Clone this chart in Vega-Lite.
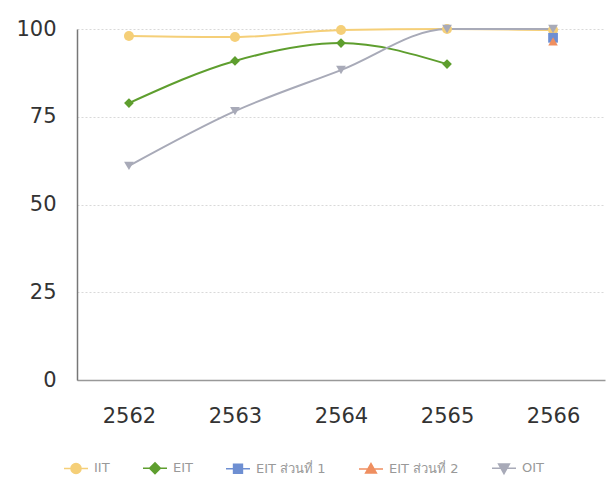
{
  "$schema": "https://vega.github.io/schema/vega-lite/v6.json",
  "width": 528,
  "height": 351,
  "autosize": {"type": "none"},
  "padding": {"left": 77, "top": 29, "right": 4, "bottom": 101},
  "background": "white",
  "config": {"view": {"stroke": null}, "font": "DejaVu Sans"},
  "data": {
    "values": [
      {"series": "IIT", "year": "2562", "value": 98.0},
      {"series": "IIT", "year": "2563", "value": 97.7},
      {"series": "IIT", "year": "2564", "value": 99.7},
      {"series": "IIT", "year": "2565", "value": 100},
      {"series": "IIT", "year": "2566", "value": 99.7},
      {"series": "EIT", "year": "2562", "value": 78.9},
      {"series": "EIT", "year": "2563", "value": 90.9},
      {"series": "EIT", "year": "2564", "value": 96.0},
      {"series": "EIT", "year": "2565", "value": 90.0},
      {"series": "EIT ส่วนที่ 1", "year": "2566", "value": 97.5},
      {"series": "EIT ส่วนที่ 2", "year": "2566", "value": 96.5},
      {"series": "OIT", "year": "2562", "value": 61.0},
      {"series": "OIT", "year": "2563", "value": 76.6},
      {"series": "OIT", "year": "2564", "value": 88.3},
      {"series": "OIT", "year": "2565", "value": 100},
      {"series": "OIT", "year": "2566", "value": 100}
    ]
  },
  "encoding": {
    "x": {
      "field": "year", "type": "ordinal",
      "scale": {"type": "point", "padding": 0.49},
      "axis": {"title": null, "labelAngle": 0, "labelFontSize": 21, "labelColor": "#333", "labelPadding": 25, "ticks": false, "grid": false, "domainColor": "#999", "domainWidth": 1.5}
    },
    "y": {
      "field": "value", "type": "quantitative",
      "scale": {"domain": [0, 100]},
      "axis": {"title": null, "values": [0, 25, 50, 75, 100], "labelFontSize": 21, "labelColor": "#333", "labelPadding": 21, "ticks": false, "domainColor": "#777", "domainWidth": 1.5, "grid": true, "gridColor": "#d9d9d9", "gridDash": [2, 2], "gridWidth": 1}
    },
    "color": {
      "field": "series", "type": "nominal",
      "scale": {
        "domain": ["IIT", "EIT", "EIT ส่วนที่ 1", "EIT ส่วนที่ 2", "OIT"],
        "range": ["#F5CF78", "#5E9E2E", "#6E8FD2", "#EF8F60", "#A8AAB8"]
      },
      "legend": {
        "title": null,
        "orient": "none",
        "legendX": -14,
        "legendY": 426,
        "direction": "horizontal",
        "columnPadding": 30,
        "symbolSize": 576,
        "symbolStrokeWidth": 1.5,
        "labelFontSize": 13,
        "labelColor": "#999",
        "labelOffset": 5,
        "encode": {
          "symbols": {
            "update": {
              "stroke": {"scale": "color", "field": "value"},
              "fill": {"scale": "color", "field": "value"},
              "opacity": {"value": 1}
            }
          }
        }
      }
    }
  },
  "layer": [
    {"mark": {"type": "line", "interpolate": "monotone", "strokeWidth": 2}},
    {"transform": [{"filter": "datum.series === 'IIT'"}], "mark": {"type": "point", "filled": true, "opacity": 1, "size": 100, "shape": "circle"}},
    {"transform": [{"filter": "datum.series === 'EIT'"}], "mark": {"type": "point", "filled": true, "opacity": 1, "size": 95, "shape": "diamond"}},
    {"transform": [{"filter": "datum.series === 'EIT ส่วนที่ 1'"}], "mark": {"type": "point", "filled": true, "opacity": 1, "size": 95, "shape": "square"}},
    {"transform": [{"filter": "datum.series === 'EIT ส่วนที่ 2'"}], "mark": {"type": "point", "filled": true, "opacity": 1, "size": 90, "shape": "triangle-up"}},
    {"transform": [{"filter": "datum.series === 'OIT'"}], "mark": {"type": "point", "filled": true, "opacity": 1, "size": 95, "shape": "triangle-down"}},
    {
      "transform": [{"filter": "datum.value < 0"}],
      "mark": {"type": "point", "filled": true, "opacity": 1},
      "encoding": {
        "shape": {
          "field": "series", "type": "nominal",
          "scale": {
            "domain": ["IIT", "EIT", "EIT ส่วนที่ 1", "EIT ส่วนที่ 2", "OIT"],
            "range": [
              "M-1,0H1M0.42,0A0.42,0.42,0,1,1,-0.42,0A0.42,0.42,0,1,1,0.42,0Z",
              "M-1,0H1M0,-0.45L0.45,0L0,0.45L-0.45,0Z",
              "M-1,0H1M-0.37,-0.37H0.37V0.37H-0.37Z",
              "M-1,0H1M0,-0.45L0.45,0.35L-0.45,0.35Z",
              "M-1,0H1M0,0.45L0.45,-0.35L-0.45,-0.35Z"
            ]
          }
        }
      }
    }
  ]
}
